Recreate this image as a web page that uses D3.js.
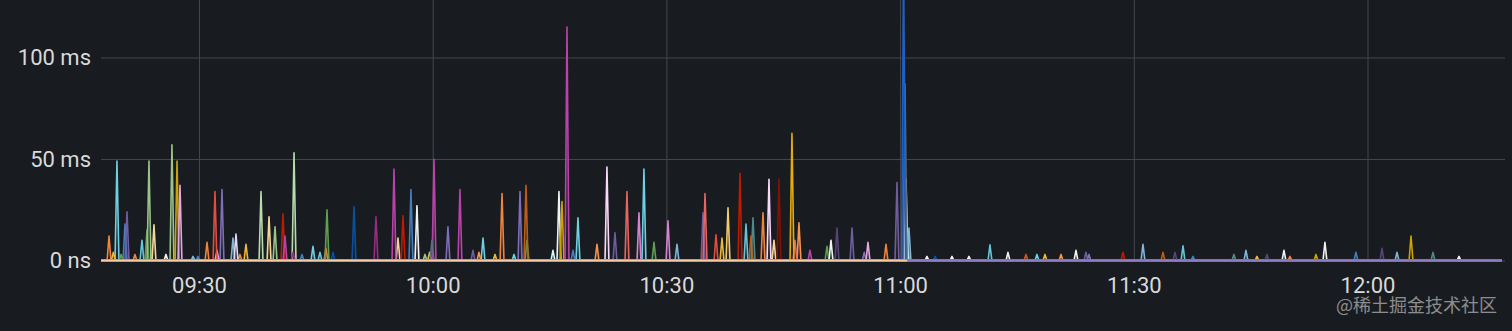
<!DOCTYPE html>
<html>
<head>
<meta charset="utf-8">
<script src="https://cdn.jsdelivr.net/npm/d3@7"></script>
<style>
  html, body { margin: 0; padding: 0; background: #181b1f; }
  svg { display: block; }
</style>
</head>
<body>
<svg id="chart" width="1512" height="331"></svg>
<script>
// ---------- DATA (time = minutes after 09:00, value = milliseconds) ----------
const timeStart = 17.42;   // 09:17:25
const timeEnd = 197.27;    // 12:17:16
const xTickMinutes = [30, 60, 90, 120, 150, 180];
const yTickValues = [0, 50, 100];
const yTickLabels = ["0 ns", "50 ms", "100 ms"];

const orange      = [[18.45,12],[21.78,3],[31.03,9],[35.26,3],[46.30,6],[68.90,33],[102.40,23.5],[118.19,8],[170.05,2]];
const cyan        = [[19.47,49],[44.63,7],[66.46,11],[70.44,3],[78.65,21],[87.12,45],[137.57,3]];
const lightCyan   = [[22.68,10],[45.53,4],[100.22,18],[131.54,7.7],[156.32,7.2]];
const blue        = [[20.50,18],[29.87,2],[43.22,3],[57.21,35],[78.01,5],[157.60,2],[178.52,4]];
const purple      = [[20.76,24],[65.17,5],[83.40,13.6],[94.70,23.5],[113.83,16],[119.60,38.4],[143.86,4]];
const mediumPurple= [[32.95,35],[61.96,16.6],[71.21,34],[115.40,4],[144.25,3]];
const yellow      = [[19.00,4],[36.03,8],[59.60,4],[68.00,3],[97.14,11],[138.60,3],[165.81,2]];
const green       = [[20.00,3],[23.32,15],[46.43,25],[72.10,10],[88.41,9],[110.62,7]];
const lightGreen  = [[23.58,49],[26.53,57],[39.76,16.6],[59.01,3]];
const paleGreen   = [[37.96,34],[42.20,53],[120.90,16]];
const cream       = [[24.22,17.6],[38.99,21.5],[55.55,11],[103.81,10]];
const white       = [[25.76,3],[57.98,27],[76.21,34],[111.13,10],[120.76,40],[123.45,2],[126.66,2],[128.84,2],[133.85,4],[142.58,5],[169.28,5],[174.54,9],[191.75,2]];
const gold        = [[27.18,49],[76.60,29],[173.39,3],[185.59,12]];
const pink        = [[27.56,37],[32.31,5],[115.88,9]];
const lightBlue   = [[29.23,2],[34.36,11],[91.36,8],[121.14,16],[151.18,8],[164.40,5],[183.79,4]];
const red         = [[32.05,34],[96.37,12.6]];
const lavender    = [[34.75,13]];
const darkRed     = [[40.78,23],[56.19,22],[99.45,43],[148.61,4]];
const magenta     = [[41.04,12],[55.03,45],[60.17,49.8],[63.50,35],[77.24,115],[108.43,5]];
const plum        = [[42.07,4],[52.72,21.5]];
const navy        = [[47.20,4],[49.90,26.5],[124.50,2]];
const slate       = [[59.91,10],[120.63,87]];
const lightOrange = [[65.94,4],[81.09,8],[107.02,18.6],[140.66,3]];
const darkOrange  = [[71.98,37],[100.86,12],[136.16,3],[153.75,4]];
const paleCyan    = [[75.44,5]];
const pinkWhite   = [[82.37,46],[103.17,40]];
const salmon      = [[84.94,34],[94.96,33],[106.51,10]];
const orchid      = [[86.48,23.5],[90.21,19.6]];
const lightYellow = [[97.91,26]];
const teal        = [[101.12,21],[162.86,3],[188.41,4]];
const maroon      = [[104.45,40]];
const amber       = [[106.12,62.6]];
const darkPurple  = [[111.90,16],[155.29,4],[167.10,3],[181.86,6]];
const brightBlue  = [[120.45,150]];

const baselineBefore = [[17.42,0],[120.95,0]];
const baselineAfter  = [[120.95,0],[197.27,0]];

// ---------- series table (data + colour) ----------
const series = [
  {data: orange, color: "#EF843C"},
  {data: cyan, color: "#6ED0E0"},
  {data: lightCyan, color: "#65C5DB"},
  {data: blue, color: "#447EBC"},
  {data: purple, color: "#705DA0"},
  {data: mediumPurple, color: "#806EB7"},
  {data: yellow, color: "#EAB839"},
  {data: green, color: "#629E51"},
  {data: lightGreen, color: "#9AC48A"},
  {data: paleGreen, color: "#B7DBAB"},
  {data: cream, color: "#F4D598"},
  {data: white, color: "#F2F2F2"},
  {data: gold, color: "#CCA300"},
  {data: pink, color: "#E5A8E2"},
  {data: lightBlue, color: "#82B5D8"},
  {data: red, color: "#E24D42"},
  {data: lavender, color: "#DEDAF7"},
  {data: darkRed, color: "#BF1B00"},
  {data: magenta, color: "#BA43A9"},
  {data: plum, color: "#962D82"},
  {data: navy, color: "#0A50A1"},
  {data: slate, color: "#5B6E82"},
  {data: lightOrange, color: "#F9934E"},
  {data: darkOrange, color: "#C15C17"},
  {data: paleCyan, color: "#CFFAFF"},
  {data: pinkWhite, color: "#F9D9F9"},
  {data: salmon, color: "#EA6460"},
  {data: orchid, color: "#D683CE"},
  {data: lightYellow, color: "#F2C96D"},
  {data: teal, color: "#4F8A8B"},
  {data: maroon, color: "#890F02"},
  {data: amber, color: "#E5AC0E"},
  {data: darkPurple, color: "#584477"},
  {data: brightBlue, color: "#1F60C4"}
];

// ---------- layout ----------
const W = 1512, H = 331;
const plotLeft = 101, plotRight = 1502, plotTop = 0, plotBottom = 260.5;
const halfWidth = 0.25; // minutes, one sample each side of a peak

const base = new Date(2023, 0, 1, 9, 0, 0).getTime();
const toDate = m => new Date(base + m * 60000);

const x = d3.scaleTime()
  .domain([toDate(timeStart), toDate(timeEnd)])
  .range([plotLeft, plotRight]);
const y = d3.scaleLinear()
  .domain([0, 128.3])
  .range([plotBottom, plotTop]);

const svg = d3.select("#chart");
svg.append("rect").attr("width", W).attr("height", H).attr("fill", "#181b1f");

svg.append("defs").append("clipPath").attr("id", "clip")
  .append("rect").attr("x", plotLeft).attr("y", plotTop)
  .attr("width", plotRight - plotLeft).attr("height", plotBottom - plotTop + 3);

const font = "Roboto, Inter, 'Noto Sans', sans-serif";
const textColor = "#d8d9da";
const gridColor = "#46474c";

// grid: horizontal
const yAxis = d3.axisLeft(y).tickValues(yTickValues)
  .tickSize(-(plotRight - plotLeft + 3))
  .tickFormat((d, i) => yTickLabels[i]);
const gy = svg.append("g").attr("transform", `translate(${plotLeft},0)`).call(yAxis);
gy.select(".domain").remove();
gy.selectAll(".tick line").attr("stroke", gridColor).attr("stroke-width", 1);
gy.selectAll(".tick text").attr("x", -10).attr("fill", textColor)
  .style("font-family", font).style("font-size", "22px");

// grid: vertical
const xAxis = d3.axisBottom(x)
  .tickValues(xTickMinutes.map(toDate))
  .tickSize(-(plotBottom - plotTop))
  .tickFormat(d3.timeFormat("%H:%M"));
const gx = svg.append("g").attr("transform", `translate(0,${plotBottom})`).call(xAxis);
gx.select(".domain").remove();
gx.selectAll(".tick line").attr("stroke", gridColor).attr("stroke-width", 1);
gx.selectAll(".tick text").attr("y", 17).attr("fill", textColor)
  .style("font-family", font).style("font-size", "22px");

// ---------- series ----------
function buildPoints(peaks) {
  const pts = [[timeStart, 0]];
  peaks.slice().sort((a, b) => a[0] - b[0]).forEach(([m, v]) => {
    pts.push([m - halfWidth, 0], [m, v], [m + halfWidth, 0]);
  });
  pts.push([timeEnd, 0]);
  return pts;
}

const line = d3.line().x(d => x(toDate(d[0]))).y(d => y(d[1]));
const area = d3.area().x(d => x(toDate(d[0]))).y0(y(0)).y1(d => y(d[1]));

const plot = svg.append("g").attr("clip-path", "url(#clip)");

series.forEach(s => {
  const pts = buildPoints(s.data);
  plot.append("path").datum(pts).attr("d", area)
    .attr("fill", s.color).attr("fill-opacity", 0.07);
  plot.append("path").datum(pts).attr("d", line)
    .attr("fill", "none").attr("stroke", s.color)
    .attr("stroke-width", 1.6).attr("stroke-linejoin", "round");
});

// baselines
plot.append("path").datum(baselineBefore).attr("d", line)
  .attr("fill", "none").attr("stroke", "#F4CDA8").attr("stroke-width", 2.2);
plot.append("path").datum(baselineAfter).attr("d", line)
  .attr("fill", "none").attr("stroke", "#8F7BC4").attr("stroke-width", 2.2);

// watermark
svg.append("text")
  .attr("x", 1497).attr("y", 312)
  .attr("text-anchor", "end")
  .attr("fill", "#ffffff").attr("fill-opacity", 0.5)
  .style("font-family", "'Noto Sans CJK SC', sans-serif")
  .style("font-size", "18px")
  .text("@稀土掘金技术社区");
</script>
</body>
</html>
